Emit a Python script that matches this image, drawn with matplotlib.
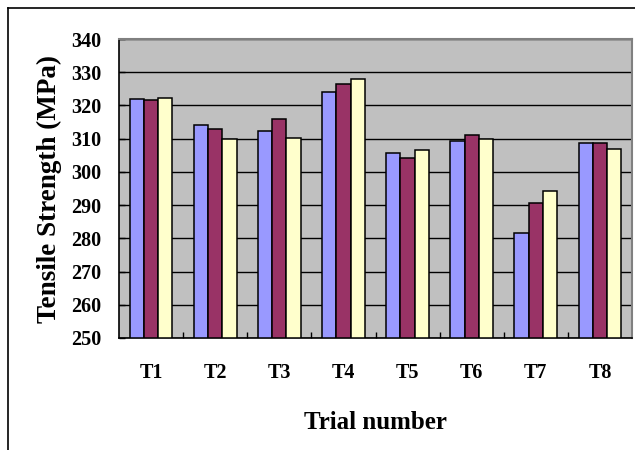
import numpy as np
import matplotlib.pyplot as plt
from matplotlib.lines import Line2D

plt.rcParams['font.family'] = ['Liberation Serif', 'DejaVu Serif']
plt.rcParams['font.weight'] = 'bold'

trials = ['T1', 'T2', 'T3', 'T4', 'T5', 'T6', 'T7', 'T8']
series_a = [322.0, 314.2, 312.2, 324.0, 305.7, 309.4, 281.6, 308.6]
series_b = [321.5, 313.0, 315.9, 326.4, 304.2, 311.0, 290.5, 308.6]
series_c = [322.2, 309.9, 310.3, 327.9, 306.6, 309.9, 294.1, 307.0]
yticks = [250, 260, 270, 280, 290, 300, 310, 320, 330, 340]

colors = ['#9999FF', '#993366', '#FFFFCC']
base = 250


def draw():
    fig = plt.figure(figsize=(6.35, 4.5), dpi=100)
    ax = fig.add_axes([0.1874, 0.2489, 0.8079, 0.6644])
    ax.set_facecolor('#C0C0C0')

    x = np.arange(len(trials))
    w = 0.222
    for i, vals in enumerate([series_a, series_b, series_c]):
        heights = np.array(vals) - base
        ax.bar(x + (i - 1) * w, heights, w, bottom=base, color=colors[i],
               edgecolor='black', linewidth=1.1, zorder=3)

    ax.set_xlim(-0.5, len(trials) - 0.5)
    ax.set_ylim(yticks[0], yticks[-1])
    ax.set_yticks(yticks)
    ax.set_yticklabels([str(t) for t in yticks], fontsize=14.5, fontweight='bold')
    ax.yaxis.grid(True, color='black', linewidth=1.0, zorder=1)
    ax.set_axisbelow(True)

    # category labels centred, tick marks between the groups
    ax.set_xticks(x)
    ax.set_xticklabels(trials, fontsize=14.5, fontweight='bold')
    ax.tick_params(axis='x', length=0, pad=18)
    ax.set_xticks(np.arange(0.5, len(trials) - 0.5), minor=True)
    ax.tick_params(axis='x', which='minor', direction='in', length=4, width=1)
    ax.tick_params(axis='y', direction='in', length=4, width=1, pad=13)

    for side in ['top', 'right']:
        ax.spines[side].set_color('#808080')
        ax.spines[side].set_linewidth(1.5)
    for side in ['left', 'bottom']:
        ax.spines[side].set_color('black')
        ax.spines[side].set_linewidth(1.2)

    ax.set_ylabel('Tensile Strength (MPa)', fontsize=19.5, fontweight='bold', labelpad=6)
    ax.set_xlabel('Trial number', fontsize=18, fontweight='bold', labelpad=20)

    # outer chart frame
    fx = 8 / 635
    fy = 1 - 7.5 / 450
    fig.add_artist(Line2D([fx, fx], [0, fy], color='black', linewidth=1.2,
                          transform=fig.transFigure))
    fig.add_artist(Line2D([fx, 1], [fy, fy], color='black', linewidth=1.2,
                          transform=fig.transFigure))

    fig.savefig('out.png', dpi=100)


if __name__ == '__main__':
    draw()
